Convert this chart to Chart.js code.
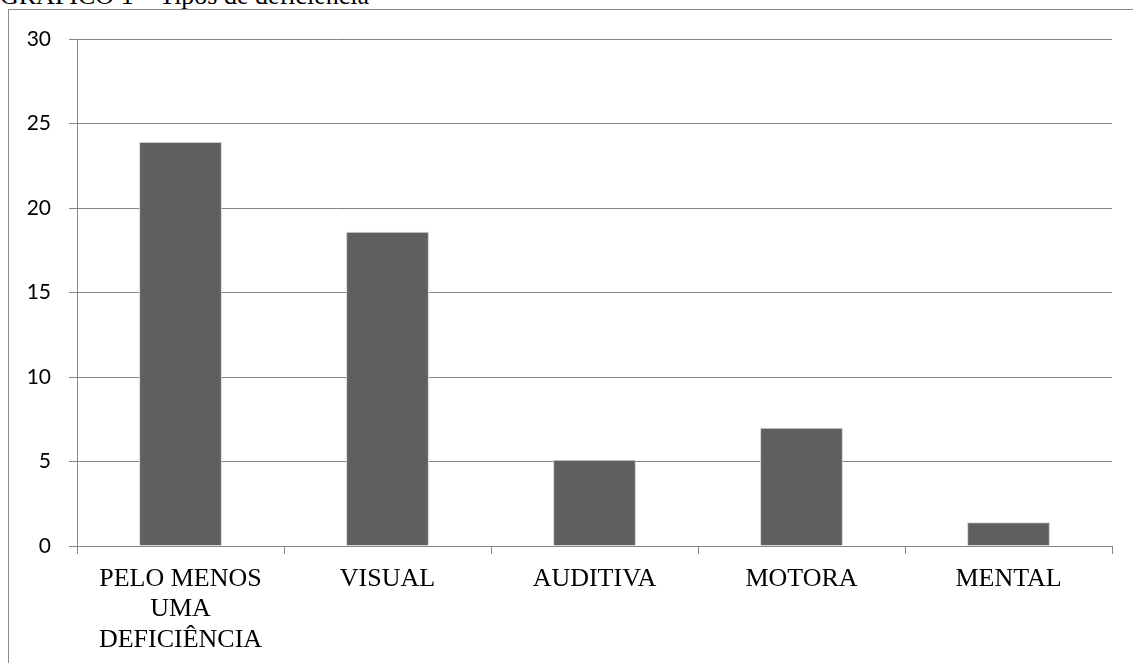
<!DOCTYPE html>
<html>
<head>
<meta charset="utf-8">
<script src="https://cdn.jsdelivr.net/npm/chart.js@4"></script>
<style>
  html, body { margin:0; padding:0; background:#fff; overflow:hidden; }
  body { width:1133px; height:663px; position:relative; }
  #title { position:absolute; left:0; top:-17px; font-family:"Liberation Serif", "Times New Roman", serif; font-size:26px; line-height:26px; color:#000; white-space:nowrap; }
  #box { position:absolute; left:8px; top:9px; width:1200px; height:800px; border-left:1px solid #8a8a8a; border-top:1px solid #8a8a8a; }
  #wrap { position:absolute; left:0; top:0; width:1133px; height:663px; }
</style>
</head>
<body>
<div id="title">GRÁFICO 1 – Tipos de deficiência</div>
<div id="box"></div>
<div id="wrap"><canvas id="c" width="1133" height="663"></canvas></div>
<script>
const categories = [["PELO MENOS", "UMA", "DEFICIÊNCIA"], "VISUAL", "AUDITIVA", "MOTORA", "MENTAL"];
const values = [23.9, 18.6, 5.1, 7.0, 1.4];
const yTicks = [0, 5, 10, 15, 20, 25, 30];

const gridColor = '#868686';
new Chart(document.getElementById('c'), {
  type: 'bar',
  data: {
    labels: categories,
    datasets: [{
      data: values,
      backgroundColor: '#5f5f5f',
      borderColor: '#cfcfcf',
      borderWidth: 1,
      categoryPercentage: 1,
      barPercentage: 0.4
    }]
  },
  options: {
    responsive: false,
    animation: false,
    devicePixelRatio: 1,
    layout: { padding: { top: 39, right: 21, left: 0, bottom: 0 } },
    plugins: { legend: { display: false }, tooltip: { enabled: false }, title: { display: false } },
    scales: {
      x: {
        offset: true,
        grid: { display: true, drawOnChartArea: false, drawTicks: true, tickLength: 8, color: gridColor, offset: true },
        border: { display: true, color: gridColor, width: 1 },
        ticks: { color: '#000', padding: 10, maxRotation: 0, autoSkip: false,
          font: { family: '"Liberation Serif", "Times New Roman", serif', size: 26, lineHeight: 1.17 } },
        afterFit: s => { s.height = 117; }
      },
      y: {
        min: 0, max: 30,
        afterBuildTicks: s => { s.ticks = yTicks.map(v => ({ value: v })); },
        grid: { color: gridColor, lineWidth: 1, drawTicks: true, tickLength: 8 },
        border: { display: true, color: gridColor, width: 1 },
        ticks: { color: '#000', padding: 18, font: { family: 'Lato, "Open Sans", sans-serif', size: 21 } },
        afterFit: s => { s.width = 77; }
      }
    }
  }
});
</script>
</body>
</html>
